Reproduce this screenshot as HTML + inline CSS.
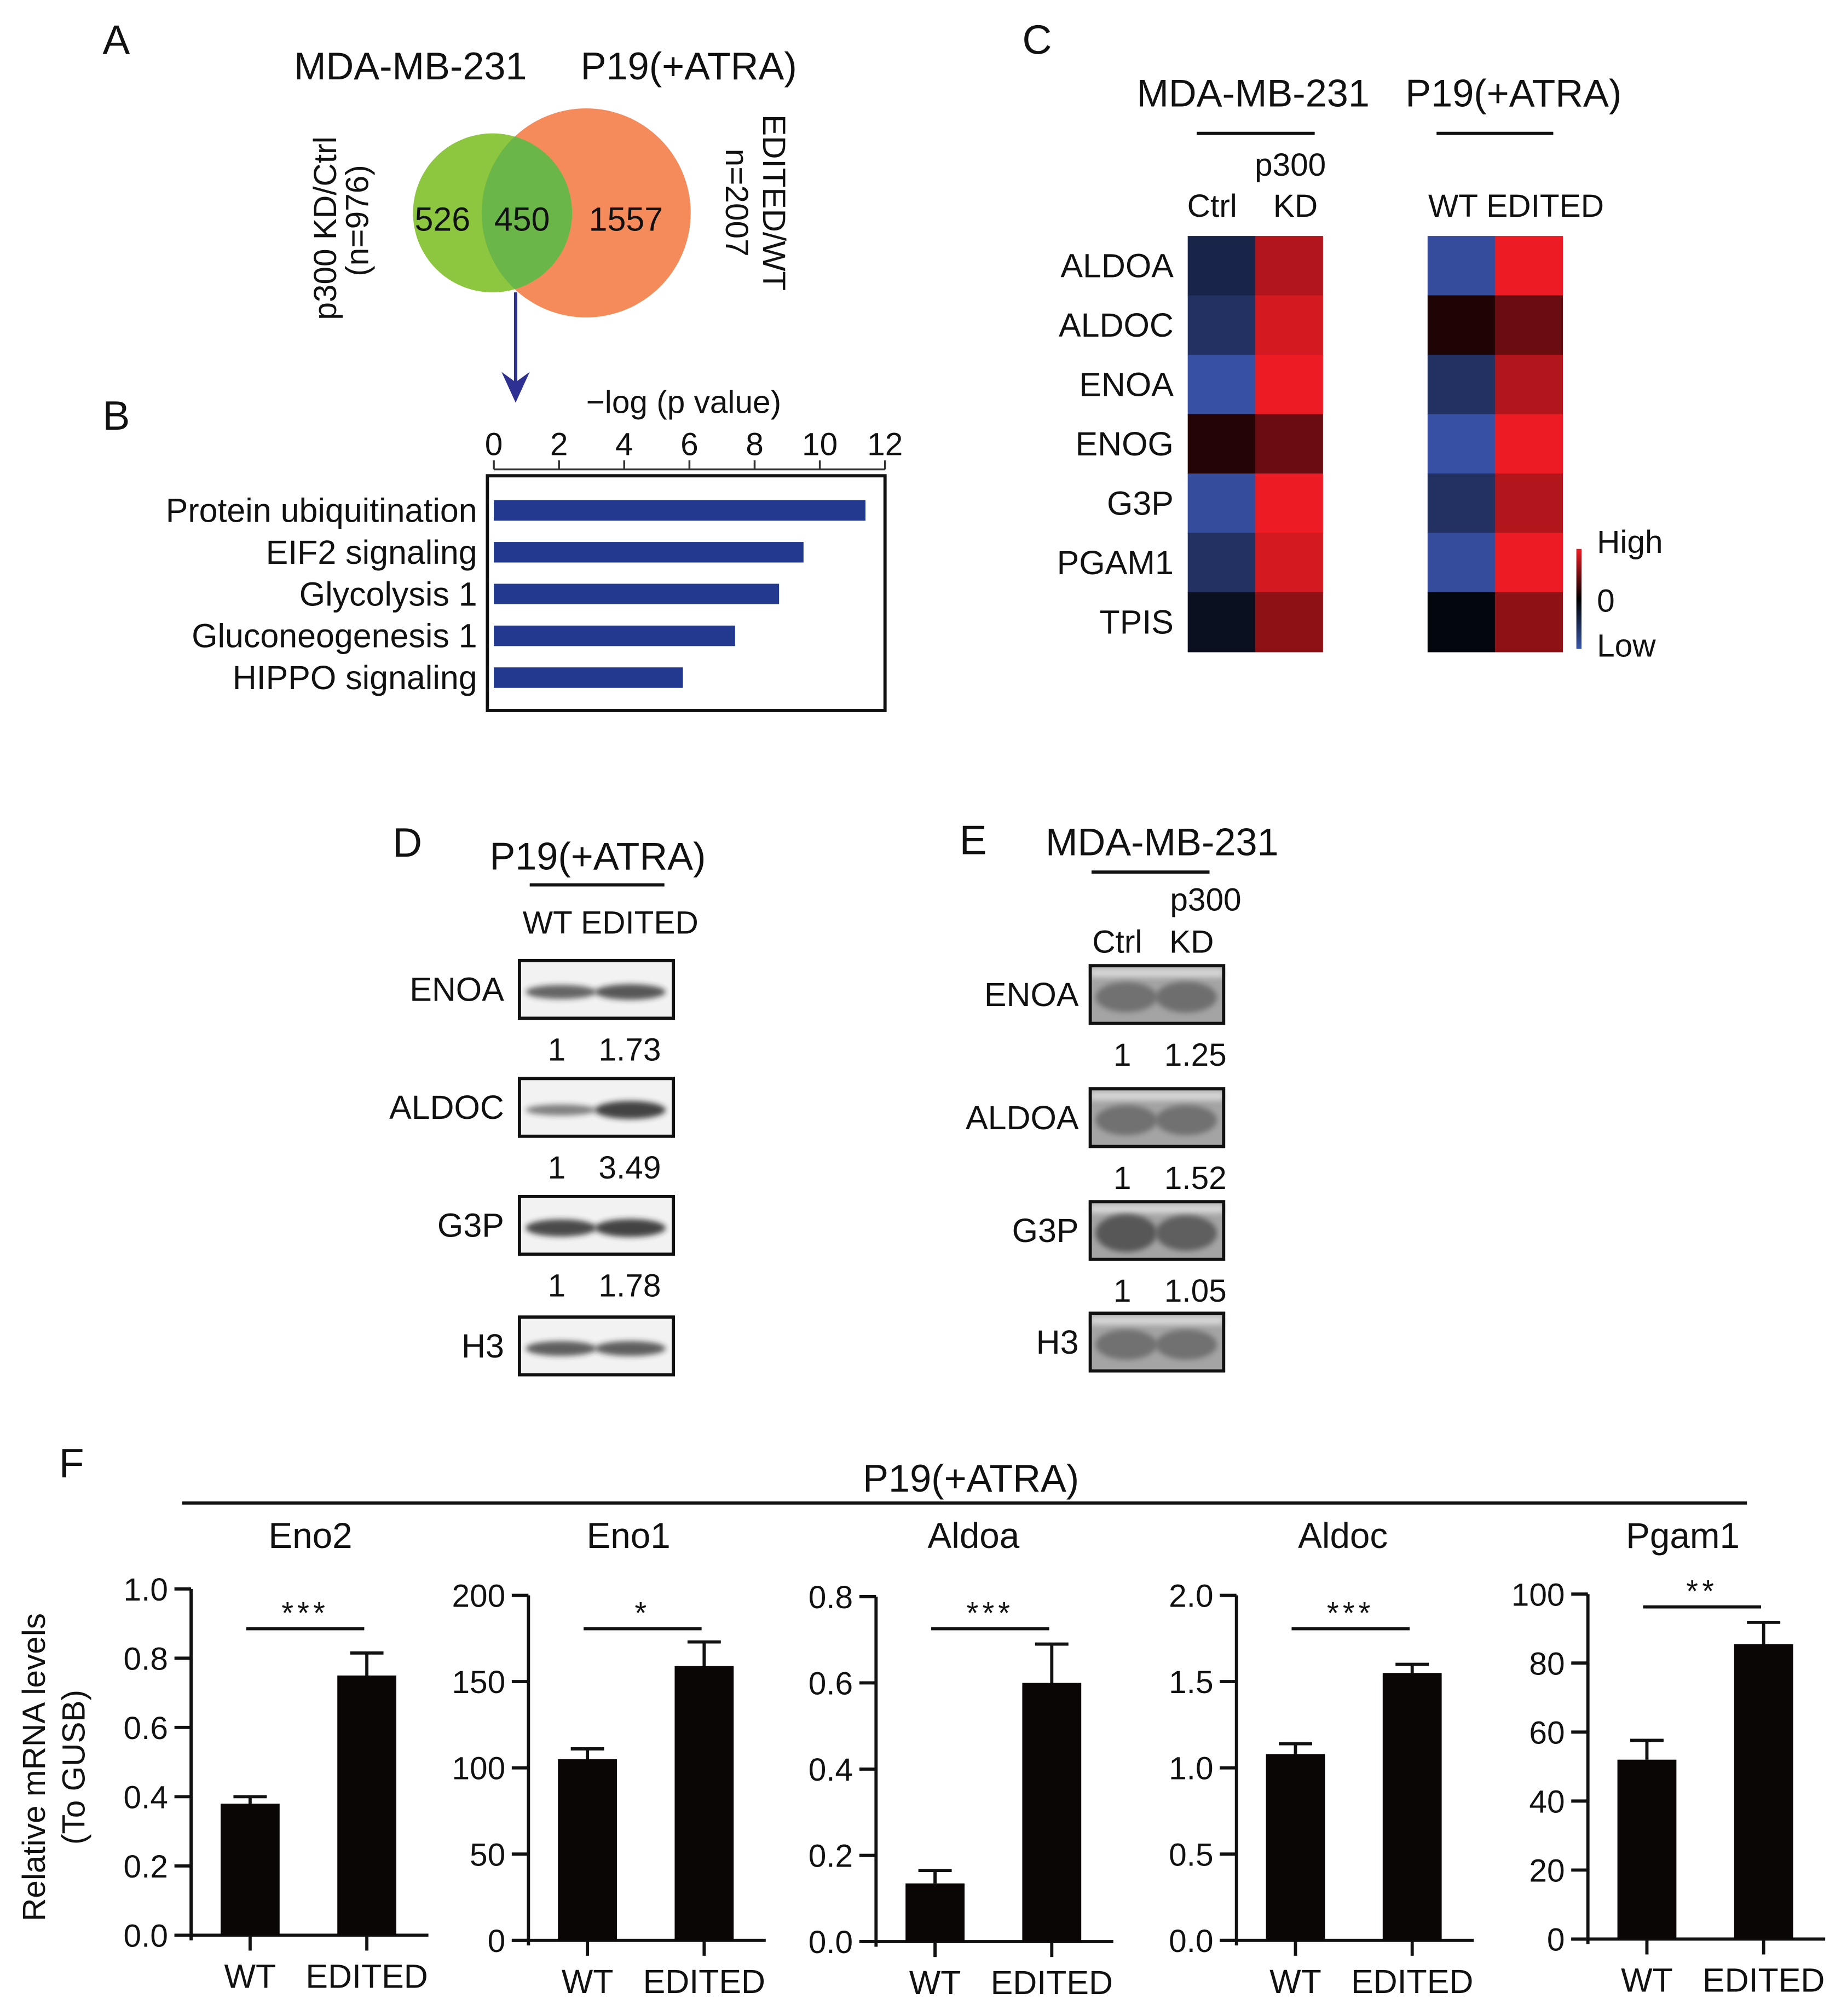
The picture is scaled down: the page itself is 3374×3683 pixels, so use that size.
<!DOCTYPE html>
<html><head><meta charset="utf-8"><style>
html,body{margin:0;padding:0;background:#fff}
svg{display:block}
text{font-family:"Liberation Sans Narrow","Liberation Sans",sans-serif;fill:#111}
.w{font-family:"Liberation Sans",sans-serif}
</style></head><body>
<svg id="fig" width="3374" height="3683" viewBox="0 0 1440 1572" preserveAspectRatio="none" xmlns="http://www.w3.org/2000/svg">
<defs>
<clipPath id="orClip"><circle cx="457" cy="166" r="81.5"/></clipPath>
<filter id="blur" x="-20%" y="-50%" width="140%" height="200%"><feGaussianBlur stdDeviation="2.2"/></filter>
<linearGradient id="legGrad" x1="0" y1="0" x2="0" y2="1"><stop offset="0" stop-color="#ed1c24"/><stop offset="0.5" stop-color="#000"/><stop offset="1" stop-color="#3a56a8"/></linearGradient>
</defs>

<!-- Panel A -->
<g>
<text x="80" y="42" font-size="32" class="w">A</text>
<text x="320" y="62" font-size="30" text-anchor="middle">MDA-MB-231</text>
<text x="537" y="62" font-size="30" text-anchor="middle">P19(+ATRA)</text>
<circle cx="457" cy="166" r="81.5" fill="#f58b5b"/>
<circle cx="384" cy="166" r="62" fill="#8dc63f"/>
<circle cx="384" cy="166" r="62" fill="#6ab648" clip-path="url(#orClip)"/>
<text x="345" y="180" font-size="26" text-anchor="middle">526</text>
<text x="407" y="180" font-size="26" text-anchor="middle">450</text>
<text x="488" y="180" font-size="26" text-anchor="middle">1557</text>
<text transform="translate(262,178) rotate(-90)" font-size="25" text-anchor="middle">p300 KD/Ctrl</text>
<text transform="translate(287,172) rotate(-90)" font-size="25" text-anchor="middle">(n=976)</text>
<text transform="translate(595,158) rotate(90)" font-size="25" text-anchor="middle">EDITED/WT</text>
<text transform="translate(566,158) rotate(90)" font-size="25" text-anchor="middle">n=2007</text>
<line x1="402" y1="228" x2="402" y2="300" stroke="#2e3192" stroke-width="2.5"/>
<polygon points="391,290 402,314 413,290 402,298" fill="#2e3192"/>
</g>

<!-- Panel B -->
<g id="panelB">
<text x="80" y="335" font-size="32" class="w">B</text>
<text x="533" y="322" font-size="25" text-anchor="middle">−log (p value)</text>
<rect x="380" y="371" width="310" height="183" fill="none" stroke="#111" stroke-width="2.5"/>
<line x1="385" y1="366" x2="690" y2="366" stroke="#333" stroke-width="1.5"/>
</g>

<!-- Panel C -->
<g id="panelC">
<text x="797" y="42" font-size="32" class="w">C</text>
<text x="977" y="83" font-size="30" text-anchor="middle">MDA-MB-231</text>
<text x="1180" y="83" font-size="30" text-anchor="middle">P19(+ATRA)</text>
<line x1="933" y1="104" x2="1025" y2="104" stroke="#111" stroke-width="2.5"/>
<line x1="1120" y1="104" x2="1211" y2="104" stroke="#111" stroke-width="2.5"/>
<text x="1006" y="137" font-size="25" text-anchor="middle">p300</text>
<text x="945" y="169" font-size="25" text-anchor="middle">Ctrl</text>
<text x="1010" y="169" font-size="25" text-anchor="middle">KD</text>
<text x="1182" y="169" font-size="25" text-anchor="middle">WT EDITED</text>
<rect x="1229" y="428" width="4" height="78" fill="url(#legGrad)"/>
<text x="1245" y="431" font-size="25">High</text>
<text x="1245" y="477" font-size="25">0</text>
<text x="1245" y="512" font-size="25">Low</text>
</g>

<!-- Panel D -->
<g id="panelD">
<text x="306" y="668" font-size="32" class="w">D</text>
<text x="466" y="678" font-size="30" text-anchor="middle">P19(+ATRA)</text>
<line x1="413" y1="690" x2="518" y2="690" stroke="#111" stroke-width="2.5"/>
<text x="476" y="728" font-size="25" text-anchor="middle">WT EDITED</text>
</g>

<!-- Panel E -->
<g id="panelE">
<text x="748" y="666" font-size="32" class="w">E</text>
<text x="906" y="667" font-size="30" text-anchor="middle">MDA-MB-231</text>
<line x1="851" y1="680" x2="943" y2="680" stroke="#111" stroke-width="2.5"/>
<text x="940" y="710" font-size="25" text-anchor="middle">p300</text>
<text x="871" y="743" font-size="25" text-anchor="middle">Ctrl</text>
<text x="929" y="743" font-size="25" text-anchor="middle">KD</text>
</g>

<!-- Panel F -->
<g id="panelF">
<text x="46" y="1152" font-size="32" class="w">F</text>
<text x="757" y="1163" font-size="30" text-anchor="middle" class="w">P19(+ATRA)</text>
<line x1="142" y1="1172" x2="1362" y2="1172" stroke="#111" stroke-width="2.5"/>
<text transform="translate(35,1378) rotate(-90)" font-size="25" text-anchor="middle" class="w">Relative mRNA levels</text>
<text transform="translate(66,1378) rotate(-90)" font-size="25" text-anchor="middle" class="w">(To GUSB)</text>
</g>
</svg>
<script>
// ---------- Panel B data ----------
const pathwayNames = ["Protein ubiquitination","EIF2 signaling","Glycolysis 1","Gluconeogenesis 1","HIPPO signaling"];
const pathwayValues = [11.4, 9.5, 8.75, 7.4, 5.8];
const pathwayTicks = [0,2,4,6,8,10,12];

// ---------- Panel C data ----------
const geneNames = ["ALDOA","ALDOC","ENOA","ENOG","G3P","PGAM1","TPIS"];
const mdaCtrl = [-0.45,-0.6,-1,0.15,-0.95,-0.6,-0.2];
const mdaKD = [0.75,0.9,1,0.45,1,0.9,0.6];
const p19WT = [-0.95,0.13,-0.6,-1,-0.6,-0.95,-0.08];
const p19Edited = [1,0.45,0.75,1,0.75,1,0.6];

// ---------- Panel D/E data ----------
const blotDProteins = ["ENOA","ALDOC","G3P","H3"];
const blotDQuant = [["1","1.73"],["1","3.49"],["1","1.78"],null];
const blotDIntensity = [[0.5,0.6],[0.3,0.75],[0.7,0.75],[0.55,0.55]];
const blotEProteins = ["ENOA","ALDOA","G3P","H3"];
const blotEQuant = [["1","1.25"],["1","1.52"],["1","1.05"],null];
const blotEIntensity = [[0.45,0.5],[0.45,0.45],[0.95,0.8],[0.45,0.45]];

// ---------- Panel F data ----------
const geneTitles = ["Eno2","Eno1","Aldoa","Aldoc","Pgam1"];
const wtMeans = [0.38, 105, 0.135, 1.08, 52];
const wtErrors = [0.02, 6, 0.03, 0.06, 5.6];
const editedMeans = [0.75, 159, 0.60, 1.55, 85.5];
const editedErrors = [0.065, 14, 0.09, 0.05, 6.3];
const yMaxes = [1.0, 200, 0.8, 2.0, 100];
const yTickLabels = [["0.0","0.2","0.4","0.6","0.8","1.0"],["0","50","100","150","200"],["0.0","0.2","0.4","0.6","0.8"],["0.0","0.5","1.0","1.5","2.0"],["0","20","40","60","80","100"]];
const sigLabels = ["***","*","***","***","**"];

const NS = "http://www.w3.org/2000/svg";
function mk(tag, attrs, parent, txt){
  const e = document.createElementNS(NS, tag);
  for (const k in attrs) e.setAttribute(k, attrs[k]);
  if (txt !== undefined) e.textContent = txt;
  parent.appendChild(e); return e;
}

// Panel B
(function(){
  const g = document.getElementById('panelB');
  const x0 = 385, x1 = 690, vmax = 12;
  const xs = v => x0 + (x1 - x0) * v / vmax;
  pathwayTicks.forEach(t => {
    const tl = mk('line',{x1:xs(t),y1:359,x2:xs(t),y2:366,stroke:'#333','stroke-width':1.5},g);
    
    
    const tx = mk('text',{x:xs(t),y:355,'font-size':25,'text-anchor':'middle'},g,String(t));
    
    
  });
  pathwayNames.forEach((n,i) => {
    const yc = 398 + i * 32.6;
    const r = mk('rect',{x:xs(0),y:yc-8,width:xs(pathwayValues[i])-xs(0),height:16,fill:'#22398f'},g);
    
    
    const t = mk('text',{x:372,y:yc+9,'font-size':26,'text-anchor':'end'},g,n);
    
    
  });
})();

// Panel C
(function(){
  const g = document.getElementById('panelC');
  const blue=[56,80,164], red=[237,28,36];
  function col(v){
    const c = v < 0 ? blue : red, a = Math.min(1, Math.abs(v));
    return 'rgb(' + c.map(x => Math.round(x*a)).join(',') + ')';
  }
  const top = 184, rh = 46.3, cw = 52.5;
  const cols = [[926, mdaCtrl],[926+cw, mdaKD],[1113, p19WT],[1113+cw, p19Edited]];
  cols.forEach(([x, arr]) => {
    arr.forEach((v,i) => {
      const r = mk('rect',{x:x,y:top+i*rh,width:cw+0.5,height:rh+0.5,fill:col(v)},g);
      
      
    });
  });
  geneNames.forEach((n,i) => {
    const t = mk('text',{x:915,y:top+i*rh+rh/2+9,'font-size':26,'text-anchor':'end'},g,n);
    
    
  });
})();

// Panels D & E blots
function drawBlot(gid, proteins, quants, inten, x, w, boxYs, labelX, quantX, bg, dark, ryBase, ryGain, topStrip){
  const g = document.getElementById(gid);
  proteins.forEach((p,i) => {
    const y = boxYs[i], h = 45;
    const box = mk('rect',{x:x,y:y,width:w,height:h,fill:bg},g);
    
    
    if (topStrip) {
      const s = mk('rect',{x:x,y:y+2,width:w,height:7,fill:'#d6d6d6',filter:'url(#blur)'},g);
      
      
    }
    [0,1].forEach(l => {
      const a = inten[i][l];
      const bx = x + w*(l===0?0.27:0.72);
      const e = mk('ellipse',{cx:bx,cy:y+h/2+2,rx:w*0.23,ry:ryBase+a*ryGain,fill:dark,opacity:0.35+0.65*a,filter:'url(#blur)'},g);
      
      
    });
    const fr = mk('rect',{x:x,y:y,width:w,height:h,fill:'none',stroke:'#111','stroke-width':2.5},g);
    
    
    const t = mk('text',{x:labelX,y:y+h/2+9,'font-size':26,'text-anchor':'end'},g,p);
    
    
    if (quants[i]) {
      quants[i].forEach((q,k) => {
        const qt = mk('text',{x:quantX[k],y:y+h+33,'font-size':25,'text-anchor':'middle'},g,q);
        
        
      });
    }
  });
}
drawBlot('panelD', blotDProteins, blotDQuant, blotDIntensity, 405, 120, [749,841,933,1027], 393, [434,491], '#f2f2f2', '#222', 2.5, 6, false);
drawBlot('panelE', blotEProteins, blotEQuant, blotEIntensity, 850, 104, [753,849,937,1024], 841, [875,932], '#a4a4a4', '#555', 9, 6, true);

// Panel F
(function(){
  const g = document.getElementById('panelF');
  const axisX = [149, 412, 683, 964, 1238];
  const yTop = [1239, 1244, 1245, 1244, 1243];
  const yBot = [1509, 1513, 1514, 1513, 1512];
  const titleX = [242, 490, 759, 1047, 1312];
  geneTitles.forEach((name, i) => {
    const A = axisX[i], t0 = yTop[i], b0 = yBot[i];
    const ys = v => b0 - (b0 - t0) * v / yMaxes[i];
    const tt = mk('text',{x:titleX[i],y:1207,'font-size':28,'text-anchor':'middle','class':'w'},g,name);
    
    
    const ya = mk('line',{x1:A,y1:t0,x2:A,y2:b0+4,stroke:'#111','stroke-width':2.5},g);
    
    
    const xa = mk('line',{x1:A-13,y1:b0,x2:A+185,y2:b0,stroke:'#111','stroke-width':2.5},g);
    
    
    const labs = yTickLabels[i];
    labs.forEach((lab, k) => {
      const v = yMaxes[i] * k / (labs.length - 1);
      const tk = mk('line',{x1:A-13,y1:ys(v),x2:A,y2:ys(v),stroke:'#111','stroke-width':2.5},g);
      
      
      const tl = mk('text',{x:A-18,y:ys(v)+9,'font-size':25,'text-anchor':'end','class':'w'},g,lab);
      
      
    });
    const bars = [[A+23, wtMeans[i], wtErrors[i], 'WT'],[A+114, editedMeans[i], editedErrors[i], 'EDITED']];
    bars.forEach(([bx, m, e, lab]) => {
      const cx = bx + 23;
      const el = mk('line',{x1:cx,y1:ys(m),x2:cx,y2:ys(m+e),stroke:'#111','stroke-width':2.5},g);
      
      
      const ec = mk('line',{x1:cx-13,y1:ys(m+e),x2:cx+13,y2:ys(m+e),stroke:'#111','stroke-width':2.5},g);
      
      
      const r = mk('rect',{x:bx,y:ys(m),width:46,height:b0-ys(m),fill:'#0a0606'},g);
      
      
      const xt = mk('line',{x1:cx,y1:b0,x2:cx,y2:b0+12,stroke:'#111','stroke-width':2.5},g);
      
      
      const xl = mk('text',{x:cx,y:b0+41,'font-size':26,'text-anchor':'middle','class':'w'},g,lab);
      
      
    });
    const sl = mk('line',{x1:A+43,y1:1270,x2:A+135,y2:1270,stroke:'#111','stroke-width':2.5},g);
    if (i === 4) { sl.setAttribute('y1',1253); sl.setAttribute('y2',1253); }
    
    
    const st = mk('text',{x:A+89,y:(i===4?1249:1266),'font-size':24,'letter-spacing':'3','text-anchor':'middle','class':'w'},g,sigLabels[i]);
    
    
  });
})();
</script>
</body></html>
